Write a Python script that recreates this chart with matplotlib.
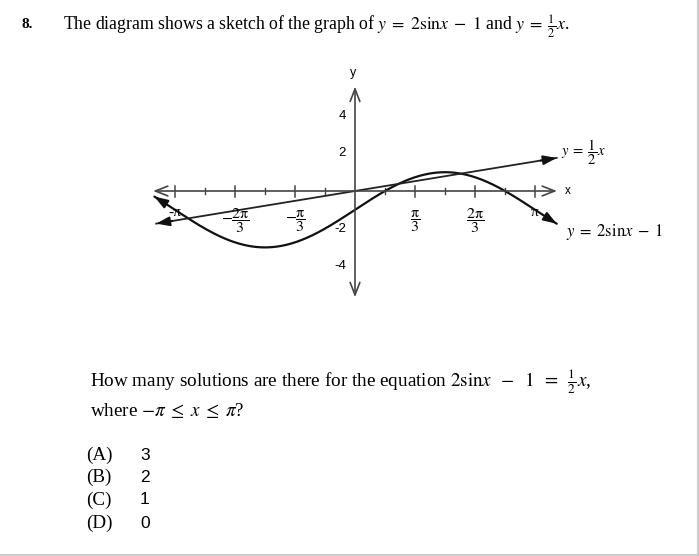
import numpy as np
import matplotlib
matplotlib.use("Agg")
import matplotlib.pyplot as plt

plt.rcParams['font.family'] = ['Liberation Serif', 'DejaVu Serif']
plt.rcParams['mathtext.fontset'] = 'stix'

# ---- data ----
major_tick_values = np.array([-6, -4, -2, 2, 4, 6]) * np.pi / 6
minor_tick_values = np.array([-5, -3, -1, 1, 3, 5]) * np.pi / 6
x_tick_labels = ['-π', r'$-\dfrac{\mathrm{2π}}{\mathrm{3}}$', r'$-\dfrac{\mathrm{π}}{\mathrm{3}}$',
                 r'$\dfrac{\mathrm{π}}{\mathrm{3}}$', r'$\dfrac{\mathrm{2π}}{\mathrm{3}}$', 'π']
y_tick_values = [4, 2, -2, -4]
y_tick_labels = ['4', '2', '-2', '-4']
sine_domain = [-3.5, 3.52]
line_domain = [-3.47, 3.52]
x_axis_extent = [-3.525, 3.525]
y_axis_extent = [-5.65, 5.55]
options = ['(A)', '(B)', '(C)', '(D)']
option_values = ['3', '2', '1', '0']

W, H = 699, 556
fig = plt.figure(figsize=(W / 100, H / 100), dpi=100)
fig.patch.set_facecolor('white')

def fx(px):
    return px / W

def fy(py):
    return 1 - py / H

# axes placed so that origin is at pixel (355,191); 57.3 px per unit in x, 18.8 px per unit in y
ax_l, ax_r, ax_t, ax_b = 130, 580, 65, 305
ax = fig.add_axes([fx(ax_l), fy(ax_b), (ax_r - ax_l) / W, (ax_b - ax_t) / H])
sx, sy = 57.3, 18.8
ax.set_xlim((ax_l - 355) / sx, (ax_r - 355) / sx)
ax.set_ylim((191 - ax_b) / sy, (191 - ax_t) / sy)
ax.axis('off')

axis_col = '#444444'
curve_col = '#111111'

# x axis with open arrowheads
ax.annotate('', xy=(x_axis_extent[1], 0), xytext=(x_axis_extent[0], 0),
            arrowprops=dict(arrowstyle='<->,head_length=0.9,head_width=0.35',
                            color=axis_col, lw=1.2, shrinkA=0, shrinkB=0,
                            mutation_scale=10))
# y axis
ax.annotate('', xy=(0, y_axis_extent[1]), xytext=(0, y_axis_extent[0]),
            arrowprops=dict(arrowstyle='<->,head_length=0.9,head_width=0.35',
                            color=axis_col, lw=1.2, shrinkA=0, shrinkB=0,
                            mutation_scale=10))

# ticks
for t in major_tick_values:
    ax.plot([t, t], [-5.5 / sy, 5.5 / sy], color=axis_col, lw=1.1)
for t in minor_tick_values:
    ax.plot([t, t], [-3 / sy, 3 / sy], color=axis_col, lw=1.0)

# tick labels
for t, lab in zip(major_tick_values, x_tick_labels):
    if 'frac' in lab:
        ax.text(t, (191 - 221) / sy, lab, ha='center', va='center', fontsize=11.5)
    else:
        ax.text(t, (191 - 212) / sy, lab, ha='center', va='center', fontsize=11)
for v, lab in zip(y_tick_values, y_tick_labels):
    ax.text(-9 / sx, v, lab, ha='right', va='center', fontsize=9.5,
            family=['Liberation Sans', 'DejaVu Sans'])

ax.text(-2 / sx, (191 - 73) / sy, 'y', ha='center', va='center', fontsize=9,
        family=['Liberation Sans', 'DejaVu Sans'])
ax.text((565 - 355) / sx, 0, 'x', ha='left', va='center', fontsize=8.5,
        family=['Liberation Sans', 'DejaVu Sans'], clip_on=False)

# curves
xs = np.linspace(sine_domain[0], sine_domain[1], 400)
ys = 2 * np.sin(xs) - 1
ax.plot(xs, ys, color=curve_col, lw=1.6, solid_capstyle='round')
xl = np.linspace(line_domain[0], line_domain[1], 50)
yl = 0.5 * xl
ax.plot(xl, yl, color='#222222', lw=1.3)

def end_arrow(x0, y0, x1, y1):
    ax.annotate('', xy=(x1, y1), xytext=(x0, y0),
                arrowprops=dict(arrowstyle='-|>,head_length=0.8,head_width=0.28',
                                color=curve_col, lw=1.4, shrinkA=0, shrinkB=0,
                                mutation_scale=10))

end_arrow(xs[8], ys[8], xs[0], ys[0])
end_arrow(xs[-9], ys[-9], xs[-1], ys[-1])
end_arrow(xl[2], yl[2], xl[0], yl[0])
end_arrow(xl[-3], yl[-3], xl[-1], yl[-1])

ax.text((561 - 355) / sx, (191 - 152) / sy, r'$y\;=\;\dfrac{1}{2}x$', ha='left',
        va='center', fontsize=10.5, clip_on=False)
ax.text((566 - 355) / sx, (191 - 232) / sy, r'$y\;=\;2\mathrm{sin}x\;-\;1$', ha='left',
        va='center', fontsize=12, clip_on=False)

# question text
fig.text(fx(22), fy(24), '8.', fontsize=11, fontweight='bold', va='center')
fig.text(fx(63), fy(27),
         r'The diagram shows a sketch of the graph of $y\;=\;2\mathrm{sin}x\;-\;1$ and $y\;=\;\frac{1}{2}x$.',
         fontsize=12.8, va='center')
fig.text(fx(90), fy(382),
         r'How many solutions are there for the equation $2\mathrm{sin}x\;\;-\;\;1\;\;=\;\;\frac{1}{2}x$,',
         fontsize=13.8, va='center')
fig.text(fx(90), fy(410), r'where $-\pi\;\leq\;x\;\leq\;\pi$?', fontsize=13.8, va='center')
opt_y = [455, 477, 500, 523]
for py, o, v in zip(opt_y, options, option_values):
    fig.text(fx(86), fy(py), o, fontsize=13.8, va='center')
    fig.text(fx(140), fy(py), v, fontsize=12.5, va='center',
             family=['Liberation Sans', 'DejaVu Sans'])

# faint scan border
fig.add_artist(plt.Line2D([fx(697.5), fx(697.5)], [fy(0), fy(554.5)], color='#cccccc', lw=1.5))
fig.add_artist(plt.Line2D([fx(0), fx(697.5)], [fy(554.5), fy(554.5)], color='#cccccc', lw=1.5))

fig.savefig('out.png', dpi=100, facecolor='white')
